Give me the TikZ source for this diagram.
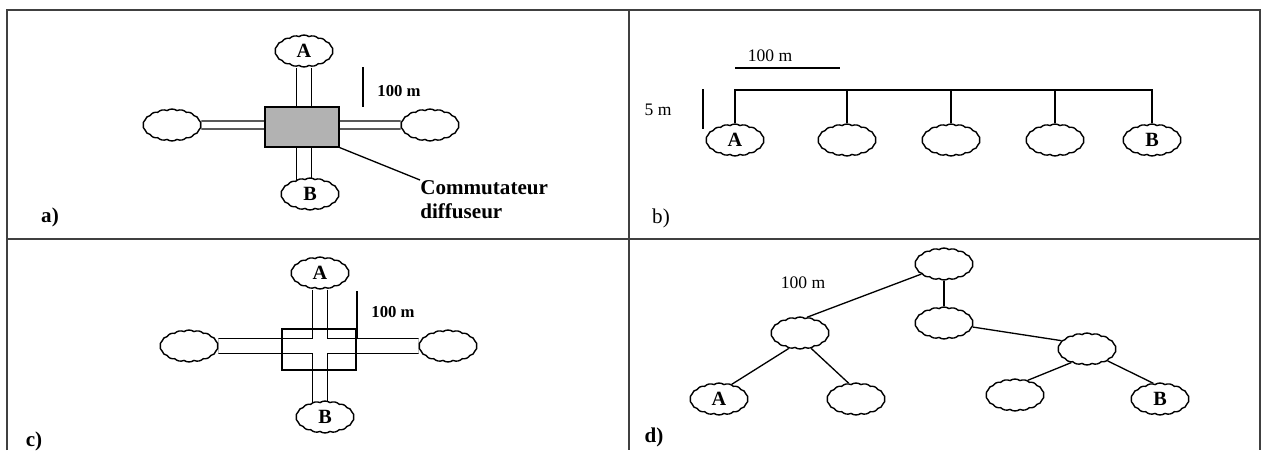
\documentclass[tikz,border=0pt]{standalone}
\usepackage{fontspec}
\setmainfont{Liberation Serif}
\usetikzlibrary{
  shapes.symbols,  % 云形节点
  backgrounds,     % 连线放到背景层
  calc             % 坐标计算
}
\tikzset{
  site/.style={
    cloud, cloud puffs=18, cloud puff arc=70, cloud ignores aspect,
    draw, fill=white, line width=0.8pt, inner sep=0pt,
    minimum width=1.16cm, minimum height=0.64cm,
    font=\bfseries\fontsize{11.5}{11.5}\selectfont
  },
  frame line/.style={draw=black!75, line width=0.8pt},
  trunk/.style={double=white, line width=0.75pt},
  wire/.style={line width=0.75pt},
  bar/.style={line width=0.75pt},
  size label/.style={inner sep=0pt, font=\fontsize{10}{10}\selectfont},
  bold size/.style={inner sep=0pt, font=\bfseries\fontsize{9.5}{9.5}\selectfont},
  part label/.style={inner sep=0pt, font=\bfseries\fontsize{12}{12}\selectfont}
}

\begin{document}
\begin{tikzpicture}[x=0.02cm, y=-0.02cm]
  \useasboundingbox (0,0) rectangle (1261,450);

  % 0. 外框与分隔线
  \draw[frame line] (7,450) -- (7,10) -- (1260,10) -- (1260,450);
  \draw[frame line] (7,239) -- (1260,239);
  \draw[frame line] (629,10) -- (629,450);

  % 1. a) 星形：中心为灰色集线器
  \node[site] (aA) at (304,51) {A};
  \node[site] (aL) at (172,125) {};
  \node[site] (aR) at (430,125) {};
  \node[site] (aB) at (310,194) {B};
  \node[draw, fill=gray!60, line width=0.6pt, inner sep=0pt,
        minimum width=1.48cm, minimum height=0.8cm] (aBox) at (302,127) {};
  \begin{scope}[on background layer]
    \draw[trunk, double distance=0.275cm] (aA) -- (aA |- aB);
    \draw[trunk, double distance=0.136cm] (aL) -- (aR);
  \end{scope}
  \node[bold size] (aLen) at (399,91) {100 m};
  \draw[bar] (363,67) -- (363,107);
  \node[anchor=north west, align=left, inner sep=0pt,
        font=\bfseries\fontsize{12}{13.6}\selectfont] (aNote) at (420,180)
        {Commutateur\\diffuseur};
  \draw[wire] (aBox.south east) -- (aNote.north west);
  \node[part label] (aTag) at (50,217) {a)};

  % 2. b) 总线
  \node[site] (bA) at (735,140) {A};
  \node[site] (b2) at (847,140) {};
  \node[site] (b3) at (951,140) {};
  \node[site] (b4) at (1055,140) {};
  \node[site] (bB) at (1152,140) {B};
  \coordinate (bBus) at (0,90);
  \draw[line width=1.1pt] (bA.north) |- (bB.north |- bBus) -- (bB.north);
  \foreach \n in {b2,b3,b4}
    \draw[wire] (\n.north) -- (\n.north |- bBus);
  \node[size label] (bLen) at (770,56) {100 m};
  \draw[bar] (735,68) -- (840,68);
  \node[size label] (bDepth) at (658,110) {5 m};
  \draw[bar] (703,89) -- (703,129);
  \node[part label, font=\fontsize{12}{12}\selectfont] (bTag) at (661,218) {b)};

  % 3. c) 星形：中心为十字交叉
  \node[site] (cA) at (320,273) {A};
  \node[site] (cL) at (189,346) {};
  \node[site] (cR) at (448,346) {};
  \node[site] (cB) at (325,417) {B};
  \node[draw, line width=0.6pt, inner sep=0pt,
        minimum width=1.48cm, minimum height=0.82cm] (cBox) at (319,349.5) {};
  \begin{scope}[on background layer]
    \draw[trunk, line width=0.6pt, double distance=0.296cm] (cA) -- (cA |- cB);
    \draw[trunk, line width=0.6pt, double distance=0.276cm] (cL) -- (cR);
    % 擦去交叉处的线段
    \coordinate (cX) at (cA |- cL);
    \fill[white] ($(cX)+(-9.5,-6.9)$) rectangle ($(cX)+(9.5,6.9)$);
    \fill[white] ($(cX)+(-7.4,-8.8)$) rectangle ($(cX)+(7.4,8.8)$);
  \end{scope}
  \node[bold size] (cLen) at (393,312) {100 m};
  \draw[bar] (357,291) -- (357,338);
  \node[part label] (cTag) at (34,441) {c)};

  % 4. d) 树形
  \node[site] (dT) at (944,264) {};
  \node[site] (dM) at (944,323) {};
  \node[site] (dLm) at (800,333) {};
  \node[site] (dRm) at (1087,349) {};
  \node[site] (dA) at (719,399) {A};
  \node[site] (d2) at (856,399) {};
  \node[site] (d3) at (1015,395) {};
  \node[site] (dB) at (1160,399) {B};
  \draw[wire] (dT.204) -- (dLm.66);
  \draw[wire] (dT) -- (dM);
  \draw[wire] (dM.352) -- (dRm.162);
  \draw[wire] (dLm.234) -- (dA.49);
  \draw[wire] (dLm.306) -- (d2.115);
  \draw[wire] (dRm.221) -- (d3.49);
  \draw[wire] (dRm.330) -- (dB.113);
  \node[size label] (dLen) at (803,283) {100 m};
  \node[part label] (dTag) at (654,437) {d)};
\end{tikzpicture}
\end{document}
